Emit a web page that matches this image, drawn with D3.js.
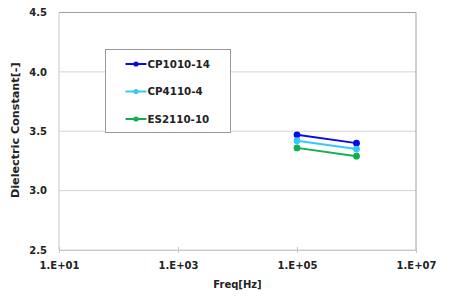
<!DOCTYPE html>
<html>
<head>
<meta charset="utf-8">
<script src="https://cdn.jsdelivr.net/npm/d3@7"></script>
<style>
  body { margin: 0; background: #fff; }
  text { font-family: "DejaVu Sans", Verdana, sans-serif; font-weight: bold; fill: #222; }
</style>
</head>
<body>
<svg width="461" height="298"></svg>
<script>
const WIDTH = 461;
const HEIGHT = 298;

const freqs = [1e5, 1e6];
const seriesNames = ["CP1010-14", "CP4110-4", "ES2110-10"];
const seriesColors = ["#0a0ae6", "#38c8f8", "#10b050"];
const cp1010 = [3.47, 3.40];
const cp4110 = [3.42, 3.35];
const es2110 = [3.36, 3.29];
const xTicks = [1e1, 1e3, 1e5, 1e7];
const yTicks = [2.5, 3.0, 3.5, 4.0, 4.5];

const series = [cp1010, cp4110, es2110].map((vals, i) => ({
  name: seriesNames[i],
  color: seriesColors[i],
  points: vals.map((v, j) => ({ f: freqs[j], v }))
}));

const margin = { top: 12.5, right: 45, bottom: 48, left: 59 };
const innerW = WIDTH - margin.left - margin.right;
const innerH = HEIGHT - margin.top - margin.bottom;

const x = d3.scaleLog().domain([1e1, 1e7]).range([0, innerW]);
const y = d3.scaleLinear().domain([2.5, 4.5]).range([innerH, 0]);

const svg = d3.select("svg");
const g = svg.append("g").attr("transform", `translate(${margin.left},${margin.top})`);

// gridlines
g.append("g")
  .selectAll("line")
  .data(yTicks)
  .enter()
  .append("line")
  .attr("x1", 0)
  .attr("x2", innerW)
  .attr("y1", (d) => y(d))
  .attr("y2", (d) => y(d))
  .attr("stroke", "#d4d4d4")
  .attr("stroke-width", 1);

// frame: top/right darker, left lighter
g.append("path")
  .attr("d", `M0,0H${innerW}V${innerH}`)
  .attr("fill", "none")
  .attr("stroke", "#a0a0a0");
g.append("line")
  .attr("x1", 0).attr("x2", 0)
  .attr("y1", 0).attr("y2", innerH)
  .attr("stroke", "#c8c8c8");

// x axis
const xAxis = g.append("g")
  .attr("transform", `translate(0,${innerH})`)
  .call(d3.axisBottom(x).tickValues(xTicks).tickSize(3)
    .tickFormat((d) => "1.E+" + String(Math.round(Math.log10(d))).padStart(2, "0")));
xAxis.select(".domain").attr("stroke", "#c8c8c8");
xAxis.selectAll(".tick line").attr("stroke", "#c8c8c8").attr("y1", -3).attr("y2", 3);
xAxis.selectAll(".tick text").attr("y", 12).attr("font-size", 10).attr("fill", "#222");

// y axis
const yAxis = g.append("g")
  .call(d3.axisLeft(y).tickValues(yTicks).tickSize(0).tickFormat(d3.format(".1f")));
yAxis.select(".domain").remove();
yAxis.selectAll(".tick text").attr("x", -12).attr("font-size", 10).attr("fill", "#222");

// axis titles
svg.append("text")
  .attr("x", margin.left + innerW / 2)
  .attr("y", 288)
  .attr("text-anchor", "middle")
  .attr("font-size", 10)
  .text("Freq[Hz]");
svg.append("text")
  .attr("transform", `translate(18.5,${margin.top + innerH / 2 - 1}) rotate(-90)`)
  .attr("text-anchor", "middle")
  .attr("font-size", 11.2)
  .text("Dielectric Constant[-]");

// series
const line = d3.line().x((d) => x(d.f)).y((d) => y(d.v));
const sg = g.append("g").selectAll("g").data(series).enter().append("g");
sg.append("path")
  .attr("d", (d) => line(d.points))
  .attr("fill", "none")
  .attr("stroke", (d) => d.color)
  .attr("stroke-width", 2);
sg.selectAll("circle")
  .data((d) => d.points.map((p) => ({ ...p, color: d.color })))
  .enter()
  .append("circle")
  .attr("cx", (d) => x(d.f))
  .attr("cy", (d) => y(d.v))
  .attr("r", 3.4)
  .attr("fill", (d) => d.color);

// legend
const legend = svg.append("g").attr("transform", "translate(105.5,49.5)");
legend.append("rect")
  .attr("width", 125)
  .attr("height", 83)
  .attr("fill", "#fff")
  .attr("stroke", "#999");
const items = legend.selectAll(".item")
  .data(series)
  .enter()
  .append("g")
  .attr("transform", (d, i) => `translate(0,${14.5 + i * 27.5})`);
items.append("line")
  .attr("x1", 20).attr("x2", 41)
  .attr("stroke", (d) => d.color)
  .attr("stroke-width", 2);
items.append("circle")
  .attr("cx", 30.5)
  .attr("r", 2.6)
  .attr("fill", (d) => d.color);
items.append("text")
  .attr("x", 42)
  .attr("dy", "0.35em")
  .attr("font-size", 10.3)
  .text((d) => d.name);
</script>
</body>
</html>
